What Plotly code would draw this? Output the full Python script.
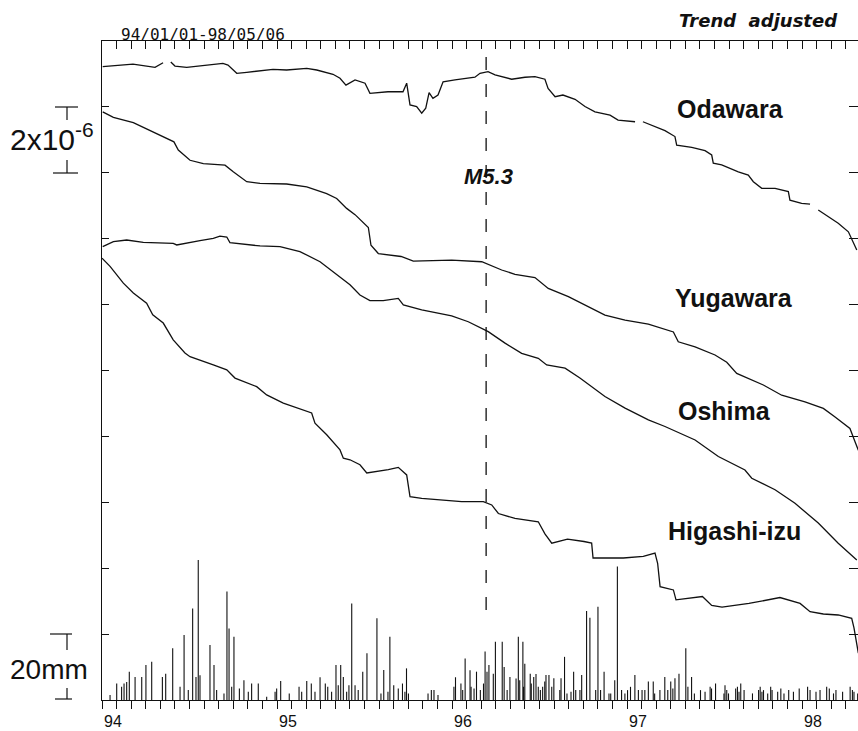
import plotly.graph_objects as go

# ---------------- data (strain in 1e-6, time in decimal years '94..'98) ----------------
odawara_t = [94.004, 94.177, 94.303, 94.349, None, 94.393, 94.417, 94.484, 94.560, 94.691, 94.720,
             94.770, 94.827, 94.977, 95.055, 95.170, 95.227, 95.320, 95.360, 95.394, 95.446,
             95.503, 95.531, 95.634, 95.720, 95.741, 95.760, 95.798, 95.827, 95.850, 95.869,
             95.891, 95.920, 95.949, 96.017, 96.131, 96.160, 96.206, 96.246, 96.341, 96.417,
             96.474, 96.531, 96.549, 96.589, 96.634, 96.703, 96.760, 96.817, 96.903, 96.949,
             97.046, None, 97.091, 97.217, 97.274, 97.284, 97.370, 97.446, 97.484, 97.493,
             97.541, 97.636, 97.693, 97.722, 97.770, 97.846, 97.922, 97.931, 97.998, 98.046,
             None, 98.093, 98.207, 98.265, 98.293, 98.313]
odawara_s = [0.00, 0.08, -0.02, 0.12, None, 0.14, 0.02, -0.02, 0.02, 0.10, 0.05,
             -0.20, -0.17, -0.08, -0.10, -0.05, -0.10, -0.23, -0.35, -0.56, -0.40,
             -0.50, -0.81, -0.76, -0.76, -0.50, -1.16, -1.21, -1.41, -1.26, -0.79,
             -0.96, -0.86, -0.46, -0.40, -0.32, -0.20, -0.15, -0.25, -0.38, -0.32,
             -0.30, -0.38, -0.66, -0.91, -0.86, -0.99, -1.21, -1.37, -1.47, -1.62,
             -1.67, None, -1.67, -1.94, -2.12, -2.38, -2.45, -2.55, -2.68, -2.93,
             -2.98, -3.19, -3.29, -3.49, -3.69, -3.69, -3.79, -4.05, -4.15, -4.17,
             None, -4.35, -4.75, -5.01, -5.31, -5.56]

yugawara_t = [94.004, 94.065, 94.179, 94.293, 94.398, 94.411, 94.436, 94.503, 94.579, 94.703,
              94.750, 94.827, 94.903, 95.055, 95.170, 95.284, 95.341, 95.398, 95.446, 95.522,
              95.537, 95.579, 95.709, 95.779, 95.998, 96.170, 96.284, 96.360, 96.474, 96.550,
              96.665, 96.741, 96.874, 96.989, 97.122, 97.265, 97.293, 97.389, 97.503, 97.570,
              97.627, 97.779, 97.884, 98.017, 98.122, 98.189, 98.274, 98.303, 98.322]
yugawara_s = [0.00, -0.17, -0.33, -0.61, -0.86, -0.91, -1.16, -1.47, -1.57, -1.62,
              -1.82, -2.12, -2.17, -2.19, -2.28, -2.48, -2.63, -2.93, -3.12, -3.51,
              -4.05, -4.30, -4.39, -4.53, -4.50, -4.55, -4.80, -4.93, -5.03, -5.36,
              -5.61, -5.81, -6.17, -6.32, -6.44, -6.68, -6.98, -7.13, -7.38, -7.60,
              -7.94, -8.29, -8.60, -8.80, -9.00, -9.26, -9.61, -10.01, -10.27]

oshima_t = [94.004, 94.065, 94.141, 94.236, 94.407, 94.427, 94.560, 94.636, 94.674, 94.713,
            94.731, 94.903, 95.017, 95.131, 95.246, 95.322, 95.370, 95.417, 95.474, 95.531,
            95.607, 95.693, 95.722, 95.827, 95.998, 96.093, 96.207, 96.303, 96.398, 96.493,
            96.541, 96.646, 96.731, 96.874, 96.989, 97.122, 97.217, 97.389, 97.522, 97.674,
            97.713, 97.846, 97.960, 98.093, 98.207, 98.313]
oshima_s = [0.00, 0.15, 0.20, 0.13, 0.10, 0.05, 0.18, 0.25, 0.32, 0.29,
            0.12, 0.02, 0.00, -0.15, -0.46, -0.76, -0.96, -1.16, -1.47, -1.64,
            -1.64, -1.57, -1.77, -1.92, -2.10, -2.28, -2.58, -2.93, -3.24, -3.39,
            -3.59, -3.69, -3.99, -4.55, -4.90, -5.26, -5.46, -5.87, -6.37, -6.78,
            -7.03, -7.38, -7.79, -8.39, -9.00, -9.51]

higashi_t = [94.000, 94.046, 94.122, 94.179, 94.255, 94.290, 94.350, 94.407, 94.474, 94.503,
             94.636, 94.713, 94.760, 94.884, 94.941, 95.036, 95.198, 95.217, 95.284, 95.360,
             95.379, 95.417, 95.474, 95.513, 95.636, 95.693, 95.741, 95.760, 95.827, 96.055,
             96.179, 96.227, 96.265, 96.360, 96.493, 96.531, 96.570, 96.660, 96.754, 96.798,
             96.806, 96.979, 97.093, 97.160, 97.175, 97.189, 97.265, 97.280, 97.431, 97.484,
             97.543, 97.697, 97.874, 97.989, 98.046, 98.122, 98.207, 98.284, 98.297, 98.309,
             98.322]
higashi_s = [0.00, -0.25, -0.76, -1.06, -1.37, -1.72, -1.97, -2.48, -2.88, -2.99,
             -3.24, -3.39, -3.64, -3.90, -4.15, -4.40, -4.70, -5.01, -5.36, -5.82,
             -6.07, -6.12, -6.27, -6.52, -6.42, -6.35, -6.58, -7.24, -7.29, -7.39,
             -7.39, -7.49, -7.75, -7.90, -8.00, -8.37, -8.65, -8.53, -8.60, -8.65,
             -9.10, -9.10, -9.05, -8.95, -9.26, -9.97, -10.07, -10.37, -10.27, -10.54,
             -10.59, -10.48, -10.30, -10.48, -10.73, -10.80, -10.83, -10.93, -11.22, -11.59,
             -11.99]

# daily rainfall (mm)
rain_t = [94.046, 94.084, 94.112, 94.126, 94.141, 94.156, 94.189, 94.227, 94.251, 94.284,
          94.345, 94.364, 94.404, 94.446, 94.469, 94.493, 94.518, 94.537, 94.550, 94.560,
          94.617, 94.640, 94.655, 94.697, 94.714, 94.726, 94.741, 94.754, 94.785, 94.811,
          94.836, 94.855, 94.893, 94.941, 94.989, 94.998, 95.021, 95.070, 95.126, 95.141,
          95.170, 95.196, 95.217, 95.246, 95.276, 95.290, 95.312, 95.337, 95.350, 95.364,
          95.379, 95.398, 95.411, 95.427, 95.446, 95.464, 95.490, 95.514, 95.571, 95.594,
          95.610, 95.634, 95.645, 95.667, 95.693, 95.717, 95.731, 95.740, 95.751, 95.863,
          95.882, 95.897, 95.920, 96.011, 96.020, 96.051, 96.061, 96.075, 96.103, 96.109,
          96.126, 96.140, 96.162, 96.180, 96.189, 96.200, 96.211, 96.236, 96.248, 96.287,
          96.298, 96.315, 96.331, 96.366, 96.379, 96.387, 96.405, 96.409, 96.416, 96.447,
          96.453, 96.467, 96.480, 96.493, 96.505, 96.518, 96.530, 96.537, 96.554, 96.570,
          96.582, 96.616, 96.623, 96.643, 96.657, 96.680, 96.695, 96.707, 96.731, 96.741,
          96.769, 96.788, 96.821, 96.834, 96.849, 96.869, 96.897, 96.907, 96.930, 96.945,
          96.969, 96.988, 97.003, 97.020, 97.045, 97.065, 97.086, 97.102, 97.122, 97.150,
          97.158, 97.188, 97.216, 97.233, 97.250, 97.262, 97.274, 97.297, 97.336, 97.348,
          97.369, 97.385, 97.420, 97.446, 97.475, 97.483, 97.506, 97.554, 97.560, 97.570,
          97.580, 97.621, 97.631, 97.640, 97.650, 97.669, 97.717, 97.752, 97.761, 97.771,
          97.780, 97.804, 97.821, 97.829, 97.861, 97.879, 97.897, 97.924, 97.951, 97.984,
          98.032, 98.046, 98.080, 98.103, 98.141, 98.156, 98.180, 98.194, 98.232, 98.275,
          98.288, 98.297, 98.318]
rain_mm = [1.5, 5.0, 4.0, 5.0, 5.5, 8.6, 7.0, 7.0, 10.6, 11.6,
           7.0, 8.0, 15.7, 4.0, 19.7, 3.0, 27.8, 7.0, 42.5, 7.5,
           16.7, 10.6, 3.0, 2.0, 32.9, 21.7, 4.0, 19.2, 3.5, 6.0,
           2.5, 5.0, 5.0, 1.0, 2.5, 3.5, 5.8, 2.0, 4.0, 2.5,
           5.8, 5.0, 2.5, 6.9, 5.0, 4.0, 2.5, 10.6, 4.5, 10.6,
           7.0, 2.5, 4.5, 29.3, 4.5, 3.0, 8.6, 14.2, 24.8, 2.0,
           9.1, 2.5, 19.2, 4.5, 3.5, 5.0, 2.5, 9.6, 2.0, 2.0,
           3.0, 3.0, 1.5, 4.0, 6.9, 5.0, 3.0, 12.6, 9.0, 4.0,
           3.5, 8.6, 3.0, 5.0, 14.7, 8.6, 10.6, 8.0, 17.7, 17.7,
           10.0, 3.0, 7.0, 6.5, 19.2, 6.0, 17.7, 4.0, 11.0, 8.0,
           5.0, 7.0, 7.9, 4.0, 3.0, 4.0, 5.6, 7.6, 7.6, 4.0,
           6.6, 3.0, 6.6, 13.1, 2.0, 2.5, 8.6, 3.0, 3.0, 7.6,
           27.0, 25.0, 3.0, 28.3, 3.0, 8.6, 2.0, 2.0, 6.0, 40.5,
           3.0, 2.0, 3.0, 4.0, 7.6, 3.0, 3.0, 3.0, 5.6, 5.6,
           2.0, 3.0, 7.0, 3.0, 5.6, 3.5, 6.6, 8.0, 15.7, 4.0,
           7.0, 2.0, 3.0, 2.5, 4.0, 3.5, 5.0, 2.0, 4.5, 3.0,
           2.0, 3.5, 4.0, 2.5, 5.0, 3.0, 2.0, 3.0, 4.0, 2.5,
           3.0, 2.0, 4.0, 3.0, 2.5, 3.5, 2.0, 3.0, 2.5, 3.5,
           4.0, 3.0, 2.5, 3.0, 4.0, 3.5, 2.0, 3.0, 2.5, 4.0,
           3.0, 2.5, 2.0]

# vertical stacking of the four records on the strain axis (1e-6)
stations = [("Odawara", odawara_t, odawara_s, 19.22),
            ("Yugawara", yugawara_t, yugawara_s, 17.85),
            ("Oshima", oshima_t, oshima_s, 13.76),
            ("Higashi-izu", higashi_t, higashi_s, 13.41)]

quake_time = 96.195
quake_label = "M5.3"
period_label = "94/01/01-98/05/06"
year_labels = ["94", "95", "96", "97", "98"]

# ---------------- layout geometry ----------------
W, H = 858, 731
ML, MR, MT, MB = 102, 0, 41, 31
PW, PH = W - ML - MR, H - MT - MB
XR = [94.0, 94.0 + PW / 175.0]


def fx(px):
    return (px - ML) / PW


def fy(py):
    return (H - MB - py) / PH


INK = "#111111"
fig = go.Figure()

for name, t, s, off in stations:
    yy = [None if v is None else off + v for v in s]
    fig.add_trace(go.Scatter(x=t, y=yy, mode="lines", name=name,
                             line=dict(color=INK, width=1.3), connectgaps=False,
                             xaxis="x", yaxis="y", showlegend=False, hoverinfo="skip"))

rx, ry = [], []
for t, h in zip(rain_t, rain_mm):
    rx += [t, t, None]
    ry += [0, h, None]
fig.add_trace(go.Scatter(x=rx, y=ry, mode="lines", line=dict(color=INK, width=1.1),
                         xaxis="x", yaxis="y2", showlegend=False, hoverinfo="skip"))

# earthquake marker (dashed vertical)
fig.add_trace(go.Scatter(x=[quake_time, quake_time], y=[2.73, 19.58], mode="lines",
                         line=dict(color=INK, width=1.3, dash="13px,14px"),
                         xaxis="x2", yaxis="y3", showlegend=False, hoverinfo="skip"))

month_ticks = [94 + k / 12 for k in range(0, 53)]
year_ticks = [94 + k for k in range(len(year_labels))]

fig.update_layout(
    width=W, height=H,
    margin=dict(l=ML, r=MR, t=MT, b=MB, pad=0),
    paper_bgcolor="white", plot_bgcolor="white",
    showlegend=False,
    xaxis=dict(range=XR, tickvals=month_ticks, showticklabels=False, ticks="outside",
               ticklen=8, tickwidth=1, tickcolor=INK, showline=True, linecolor=INK, linewidth=1,
               showgrid=False, zeroline=False, automargin=False),
    xaxis2=dict(range=XR, overlaying="x", side="top", anchor="y", tickvals=month_ticks,
                ticks="inside", ticklen=8, tickwidth=1, tickcolor=INK, showticklabels=False,
                showline=True, linecolor=INK, linewidth=1, showgrid=False, zeroline=False),
    yaxis=dict(range=[0, 20], tick0=0, dtick=2, ticks="inside", ticklen=7, tickwidth=1,
               tickcolor=INK, showticklabels=False, showline=True, linecolor=INK, linewidth=1,
               showgrid=False, zeroline=False),
    yaxis2=dict(range=[0, 200], overlaying="y", visible=False),
    yaxis3=dict(range=[0, 20], overlaying="y", side="right", anchor="x", tick0=0, dtick=2,
                ticks="inside", ticklen=9, tickwidth=1, tickcolor=INK, showticklabels=False,
                showline=False, showgrid=False, zeroline=False),
)

ann = []


def label(text, px, py, size, family, xanchor="center", yanchor="middle"):
    ann.append(dict(text=text, x=fx(px), y=fy(py), xref="paper", yref="paper",
                    xanchor=xanchor, yanchor=yanchor, showarrow=False,
                    font=dict(family=family, size=size, color=INK)))


# year labels under the year ticks (slightly right of the tick, as in the original)
for yv, txt in zip(year_ticks, year_labels):
    ann.append(dict(text=txt, x=yv, y=0, xref="x", yref="paper", xanchor="center",
                    yanchor="bottom", xshift=11, yshift=-31, borderpad=0, showarrow=False,
                    font=dict(family="Liberation Sans, Arial", size=16, color=INK)))

BOLD = "Liberation Sans, Arial"
label("<b>Odawara</b>", 730, 109, 25, BOLD)
label("<b>Yugawara</b>", 734, 298, 25, BOLD)
label("<b>Oshima</b>", 724, 411, 25, BOLD)
label("<b>Higashi-izu</b>", 734, 531, 25, BOLD)
label("<b><i>" + quake_label + "</i></b>", 488, 176, 22, BOLD)
label("<b><i>Trend  adjusted</i></b>", 758, 20, 18, "DejaVu Sans, Liberation Sans")
label(period_label, 203, 34, 16, "DejaVu Sans Mono, Liberation Mono")
label("2x10<sup>-6</sup>", 96, 137, 30, "Liberation Sans, Arial", xanchor="right")
label("20mm", 49, 669, 28, "Liberation Sans, Arial")
fig.update_layout(annotations=ann)

shapes = []


def seg(x0, y0, x1, y1, w=1.2):
    shapes.append(dict(type="line", xref="paper", yref="paper", x0=fx(x0), y0=fy(y0),
                       x1=fx(x1), y1=fy(y1), line=dict(color=INK, width=w)))


# 2x10^-6 scale bar
seg(55, 107, 78, 107)
seg(67, 107, 67, 120)
seg(67, 160, 67, 173)
seg(53, 173, 78, 173)
# 20 mm scale bar
seg(50, 634, 72, 634)
seg(67, 634, 67, 650)
seg(67, 688, 67, 699)
seg(55, 699, 72, 699)
fig.update_layout(shapes=shapes)

fig.write_html("out.html", config={"displayModeBar": False},
               post_script="document.body.style.margin='0';document.body.style.overflow='hidden';")
